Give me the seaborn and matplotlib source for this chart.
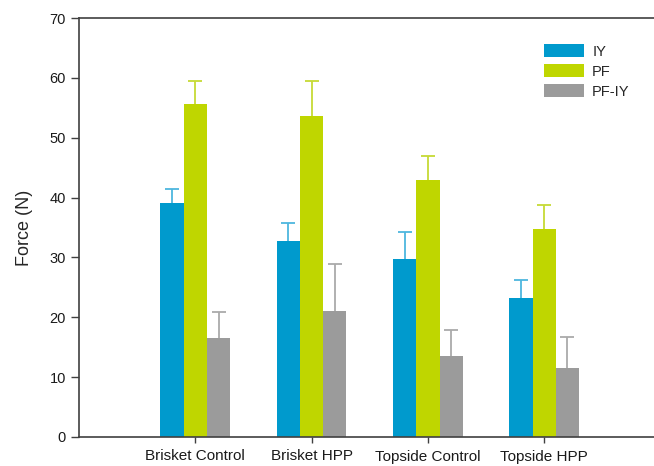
import numpy as np
import pandas as pd
import matplotlib
matplotlib.use("Agg")
import matplotlib.pyplot as plt
import seaborn as sns

# Shear force measurements per cut/treatment
categories = ["Brisket Control", "Brisket HPP", "Topside Control", "Topside HPP"]
series = ["IY", "PF", "PF-IY"]
iy_mean = [39.1, 32.7, 29.8, 23.3]
pf_mean = [55.6, 53.6, 43.0, 34.7]
pfiy_mean = [16.5, 21.1, 13.5, 11.6]
iy_err = [2.4, 3.1, 4.5, 3.0]
pf_err = [3.9, 5.9, 3.9, 4.1]
pfiy_err = [4.4, 7.8, 4.4, 5.1]
y_ticks = [0, 10, 20, 30, 40, 50, 60, 70]

bar_colors = ["#009ACD", "#BFD600", "#9B9B9B"]
err_colors = ["#4DB6DE", "#C6DA35", "#AAAAAA"]

means = [iy_mean, pf_mean, pfiy_mean]
errs = [iy_err, pf_err, pfiy_err]
df = pd.DataFrame({
    "Group": categories * len(series),
    "Series": [s for s in series for _ in categories],
    "Force": [v for m in means for v in m],
})

sns.set_theme(style="white")
plt.rcParams["font.family"] = ["Liberation Sans", "DejaVu Sans"]

fig = plt.figure(figsize=(6.54, 4.66), dpi=100)
ax = fig.add_axes([79 / 654, 29 / 466, 581.5 / 654, 419 / 466])

sns.barplot(data=df, x="Group", y="Force", hue="Series", order=categories,
            hue_order=series, palette=bar_colors, width=0.6, errorbar=None,
            saturation=1, edgecolor="none", ax=ax)

# Upper-only error bars: stem from the bar top, cap at the upper end
for cont, err, ec in zip(ax.containers, errs, err_colors):
    xs = np.array([b.get_x() + b.get_width() / 2 for b in cont])
    ys = np.array([b.get_height() for b in cont])
    tops = ys + np.array(err)
    ax.vlines(xs, ys, tops, colors=ec, linewidth=1.3, zorder=1)
    ax.plot(xs, tops, linestyle="none", marker="_", markersize=9.4,
            markeredgewidth=1.3, color=ec, zorder=1)

ax.set_xlim(-1, 4)
ax.set_ylim(0, 70)
ax.set_yticks(y_ticks)
ax.set_xlabel("")
ax.set_ylabel("Force (N)", fontsize=13, labelpad=12)

for side in ["left", "bottom", "top"]:
    ax.spines[side].set_color("#404040")
    ax.spines[side].set_linewidth(1.2)
ax.spines["right"].set_visible(False)
ax.tick_params(axis="both", which="both", direction="out", color="#404040",
               labelcolor="#1a1a1a", width=1.0)
ax.tick_params(axis="y", length=6, left=True, labelsize=10.5)
ax.tick_params(axis="x", length=4, bottom=True, pad=5, labelsize=11)

handles, labels = ax.get_legend_handles_labels()
ax.legend(handles, labels, loc="upper left",
          bbox_to_anchor=(544 / 654, 1 - 44 / 466), bbox_transform=fig.transFigure,
          frameon=False, fontsize=10.5, handlelength=2.75, handleheight=1.0,
          handletextpad=0.55, labelspacing=0.38, borderpad=0, borderaxespad=0)

fig.savefig("out.png", dpi=100)
